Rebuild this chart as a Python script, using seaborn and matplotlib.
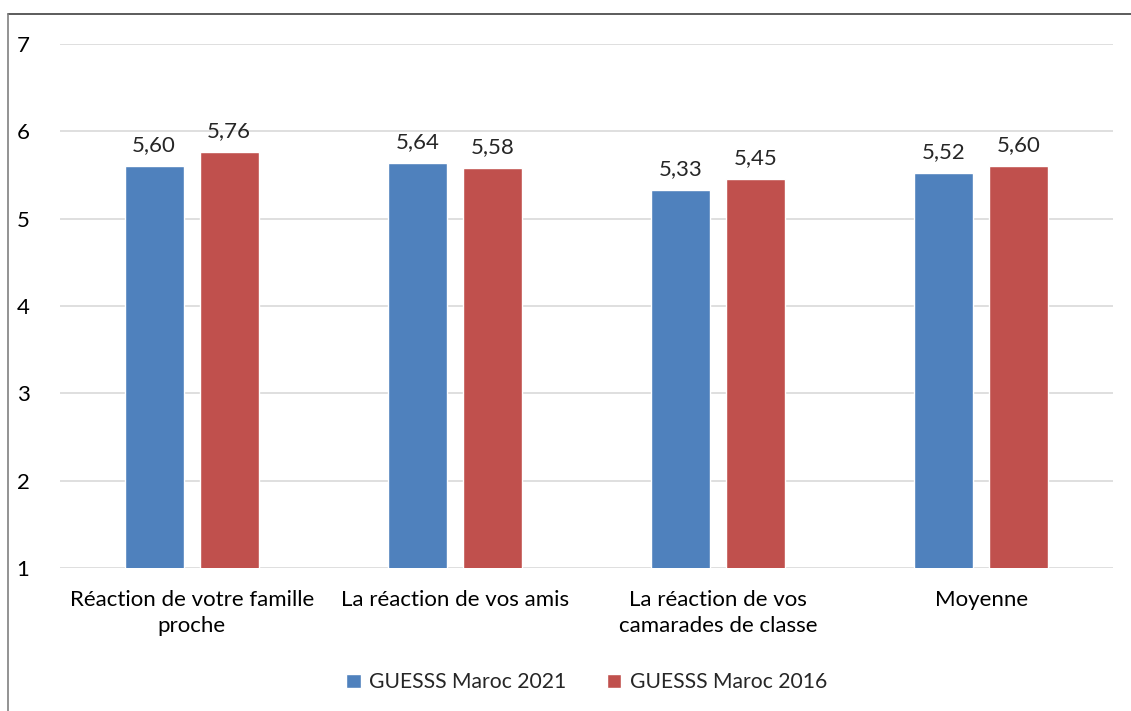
import numpy as np
import pandas as pd
import matplotlib
matplotlib.use("Agg")
import matplotlib.pyplot as plt
import seaborn as sns
from matplotlib.lines import Line2D

# data
categories = ["Réaction de votre famille\nproche", "La réaction de vos amis",
              "La réaction de vos\ncamarades de classe", "Moyenne"]
series = ["GUESSS Maroc 2021", "GUESSS Maroc 2016"]
values_2021 = [5.60, 5.64, 5.33, 5.52]
values_2016 = [5.76, 5.58, 5.45, 5.60]
colors = ["#4F81BD", "#C0504D"]

df = pd.DataFrame({
    "cat": categories * 2,
    "serie": [series[0]] * 4 + [series[1]] * 4,
    "val": values_2021 + values_2016,
})

sns.set_theme(style="white")
plt.rcParams['font.family'] = ['Lato', 'DejaVu Sans']

fig = plt.figure(figsize=(11.31, 7.11), dpi=100)
ax = fig.add_axes([60 / 1131, 1 - 568 / 711, 1053 / 1131, 524 / 711])

sns.barplot(data=df, x="cat", y="val", hue="serie", palette=colors,
            width=0.57, gap=0.213, ax=ax, saturation=1, legend=True)

ax.set_ylim(1, 7)
ax.set_yticks(range(1, 8))
ax.set_xlim(-0.5, 3.5)
ax.yaxis.grid(True, color="#D9D9D9", linewidth=1.2)
ax.set_axisbelow(True)
for s in ax.spines.values():
    s.set_visible(False)
ax.tick_params(axis="both", length=0, labelsize=16, colors="#000000")
ax.tick_params(axis="y", pad=22)
ax.tick_params(axis="x", pad=16)
for lab in ax.get_xticklabels():
    lab.set_linespacing(1.35)
ax.set_xlabel("")
ax.set_ylabel("")

for cont in ax.containers:
    ax.bar_label(cont, labels=[f"{v:.2f}".replace(".", ",") for v in cont.datavalues],
                 padding=8, fontsize=16)

ax.legend(loc="upper center", bbox_to_anchor=(0.5, -0.163), ncol=2, frameon=False,
          fontsize=15.2, handlelength=0.7, handleheight=0.7, columnspacing=1.9,
          handletextpad=0.4)

# frame of the original chart (top + left only)
fig.add_artist(Line2D([8 / 1131, 1], [1 - 14 / 711, 1 - 14 / 711],
                      transform=fig.transFigure, color="#404040", linewidth=1.2))
fig.add_artist(Line2D([8 / 1131, 8 / 1131], [0, 1 - 14 / 711],
                      transform=fig.transFigure, color="#808080", linewidth=1.2))

fig.savefig("out.png", dpi=100)
